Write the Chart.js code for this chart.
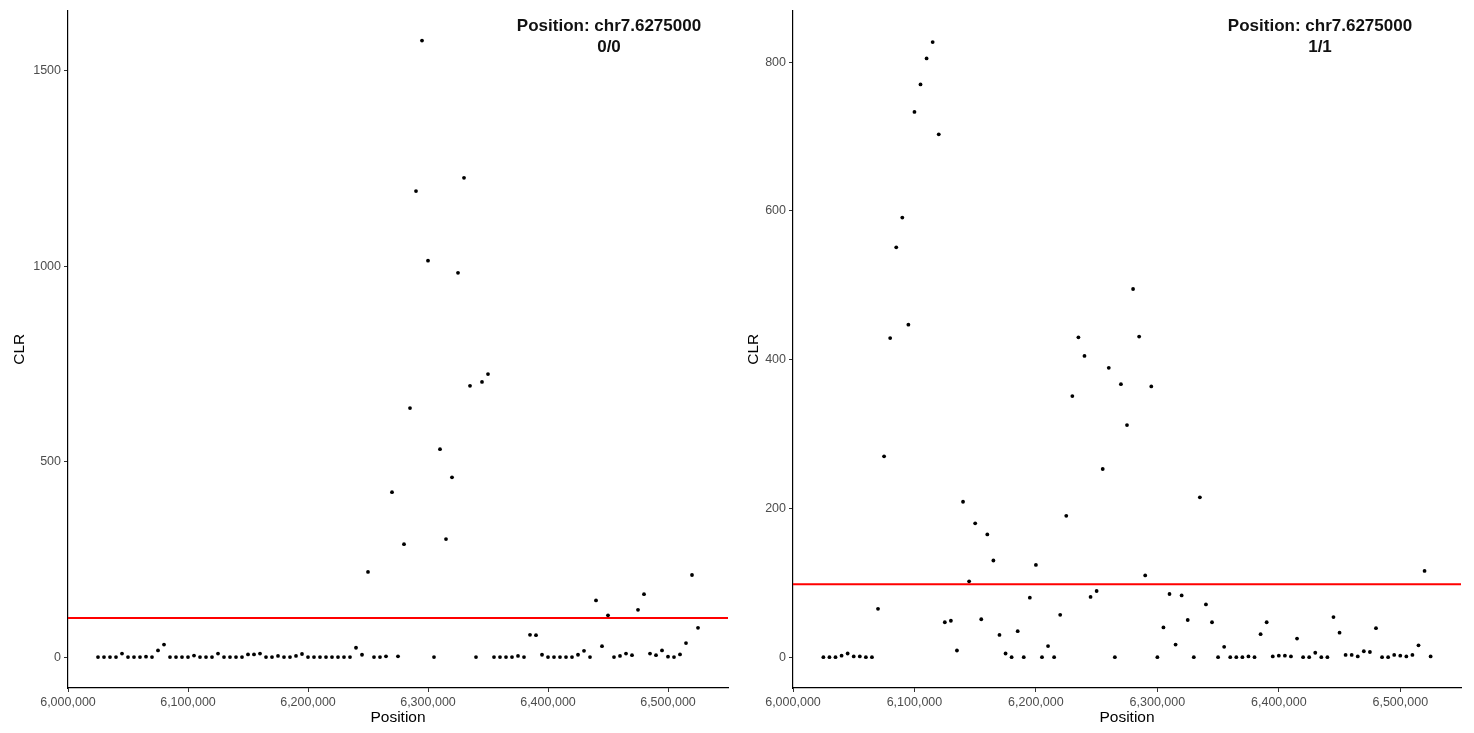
<!DOCTYPE html>
<html>
<head>
<meta charset="utf-8">
<title>CLR by position, chr7</title>
<script src="https://cdn.jsdelivr.net/npm/chart.js@4/dist/chart.umd.min.js"></script>
<style>
  html, body { margin: 0; padding: 0; background: #ffffff; }
  #wrap { position: relative; width: 1474px; height: 733px; }
  canvas { position: absolute; top: 0; }
  #left { left: 0; }
  #right { left: 737px; }
</style>
</head>
<body>
<div id="wrap">
  <canvas id="left" width="737" height="733"></canvas>
  <canvas id="right" width="737" height="733"></canvas>
</div>
<script>
// Window positions along chr7 (bp)
const positions = [
  6025000, 6030000, 6035000, 6040000, 6045000, 6050000, 6055000, 6060000, 6065000, 6070000,
  6075000, 6080000, 6085000, 6090000, 6095000, 6100000, 6105000, 6110000, 6115000, 6120000,
  6125000, 6130000, 6135000, 6140000, 6145000, 6150000, 6155000, 6160000, 6165000, 6170000,
  6175000, 6180000, 6185000, 6190000, 6195000, 6200000, 6205000, 6210000, 6215000, 6220000,
  6225000, 6230000, 6235000, 6240000, 6245000, 6250000, 6255000, 6260000, 6265000, 6270000,
  6275000, 6280000, 6285000, 6290000, 6295000, 6300000, 6305000, 6310000, 6315000, 6320000,
  6325000, 6330000, 6335000, 6340000, 6345000, 6350000, 6355000, 6360000, 6365000, 6370000,
  6375000, 6380000, 6385000, 6390000, 6395000, 6400000, 6405000, 6410000, 6415000, 6420000,
  6425000, 6430000, 6435000, 6440000, 6445000, 6450000, 6455000, 6460000, 6465000, 6470000,
  6475000, 6480000, 6485000, 6490000, 6495000, 6500000, 6505000, 6510000, 6515000, 6520000,
  6525000
];

// CLR for genotype 0/0
const clrHomRef = [
  0, 0, 0, 0, 9, 0, 0, 0, 1, 0,
  17, 32, 0, 0, 0, 0, 4, 0, 0, 0,
  9, 0, 0, 0, 0, 7, 7, 9, 0, 0,
  3, 0, 0, 3, 8, 0, 0, 0, 0, 0,
  0, 0, 0, 24, 6, 218, 0, 0, 2, 422,
  2, 289, 637, 1192, 1577, 1014, 0, 532, 302, 460,
  983, 1226, 694, 0, 704, 724, 0, 0, 0, 0,
  3, 0, 57, 56, 6, 0, 0, 0, 0, 0,
  6, 16, 0, 145, 28, 107, 0, 3, 9, 5,
  121, 161, 9, 5, 17, 1, 0, 7, 36, 210,
  75
];

// CLR for genotype 1/1
const clrHomAlt = [
  0, 0, 0, 2, 5, 1, 1, 0, 0, 65,
  270, 429, 551, 591, 447, 733, 770, 805, 827, 703,
  47, 49, 9, 209, 102, 180, 51, 165, 130, 30,
  5, 0, 35, 0, 80, 124, 0, 15, 0, 57,
  190, 351, 430, 405, 81, 89, 253, 389, 0, 367,
  312, 495, 431, 110, 364, 0, 40, 85, 17, 83,
  50, 0, 215, 71, 47, 0, 14, 0, 0, 0,
  1, 0, 31, 47, 1, 2, 2, 1, 25, 0,
  0, 6, 0, 0, 54, 33, 3, 3, 1, 8,
  7, 39, 0, 0, 3, 2, 1, 3, 16, 116,
  1
];

// Significance cut-offs (red lines)
const thresholdHomRef = 100;
const thresholdHomAlt = 98;

// Axis ticks and ranges
const xTicks = [6000000, 6100000, 6200000, 6300000, 6400000, 6500000];
const xRange = [6000000, 6550000];
const yTicksHomRef = [0, 500, 1000, 1500];
const yRangeHomRef = [-79, 1654];
const yTicksHomAlt = [0, 200, 400, 600, 800];
const yRangeHomAlt = [-41.4, 869.4];

// Panel headings
const headingHomRef = ['Position: chr7.6275000', '0/0'];
const headingHomAlt = ['Position: chr7.6275000', '1/1'];

const FONT = "'Liberation Sans', Arial, Helvetica, sans-serif";
const fmt = v => v.toLocaleString('en-US');

// Draws the two-line bold heading inside the plot panel
const headingPlugin = {
  id: 'panelHeading',
  afterDraw(chart, args, opts) {
    const ctx = chart.ctx;
    ctx.save();
    ctx.fillStyle = '#111';
    ctx.font = "bold 17px " + FONT;
    ctx.textAlign = 'center';
    ctx.textBaseline = 'middle';
    opts.lines.forEach((t, i) => ctx.fillText(t, opts.x, opts.y + i * opts.gap));
    ctx.restore();
  }
};

function makePanel(canvasId, values, threshold, yTicks, yRange, heading, cfg) {
  const pts = positions.map((p, i) => ({ x: p, y: values[i] }));
  return new Chart(document.getElementById(canvasId), {
    type: 'scatter',
    data: {
      datasets: [
        {
          type: 'line',
          data: [{ x: xRange[0], y: threshold }, { x: xRange[1], y: threshold }],
          borderColor: '#ff0000',
          borderWidth: 2,
          pointRadius: 0,
          order: 2
        },
        {
          data: pts,
          backgroundColor: '#000000',
          borderColor: '#000000',
          pointRadius: 1.9,
          borderWidth: 0,
          order: 1
        }
      ]
    },
    options: {
      responsive: false,
      animation: false,
      devicePixelRatio: 1,
      layout: { padding: { top: 10, right: cfg.padRight, left: 0, bottom: 0 } },
      plugins: {
        legend: { display: false },
        tooltip: { enabled: false },
        panelHeading: { lines: heading, x: cfg.headX, y: 26, gap: 21 }
      },
      scales: {
        x: {
          type: 'linear',
          min: xRange[0],
          max: xRange[1],
          afterBuildTicks: s => { s.ticks = xTicks.map(v => ({ value: v })); },
          afterFit: s => { s.height = 45; },
          ticks: {
            callback: v => fmt(v),
            color: '#4d4d4d',
            font: { family: FONT, size: 12.5 },
            padding: 3,
            maxRotation: 0
          },
          grid: { drawOnChartArea: false, drawTicks: true, tickLength: 4, color: '#333333', lineWidth: 1 },
          border: { display: true, color: '#000000', width: 1.2 },
          title: {
            display: true,
            text: 'Position',
            color: '#000000',
            font: { family: FONT, size: 15.5 },
            padding: { top: 0, bottom: 6 }
          }
        },
        y: {
          type: 'linear',
          min: yRange[0],
          max: yRange[1],
          afterBuildTicks: s => { s.ticks = yTicks.map(v => ({ value: v })); },
          afterFit: s => { s.width = cfg.yWidth; },
          ticks: {
            callback: v => String(v),
            color: '#4d4d4d',
            font: { family: FONT, size: 12.5 },
            padding: 3
          },
          grid: { drawOnChartArea: false, drawTicks: true, tickLength: 4, color: '#333333', lineWidth: 1 },
          border: { display: true, color: '#000000', width: 1.2 },
          title: {
            display: true,
            text: 'CLR',
            color: '#000000',
            font: { family: FONT, size: 15.5 },
            padding: { top: cfg.yTitlePad, bottom: 0 }
          }
        }
      }
    },
    plugins: [headingPlugin]
  });
}

makePanel('left', clrHomRef, thresholdHomRef, yTicksHomRef, yRangeHomRef, headingHomRef,
  { padRight: 9, yWidth: 68, yTitlePad: 10, headX: 609 });
makePanel('right', clrHomAlt, thresholdHomAlt, yTicksHomAlt, yRangeHomAlt, headingHomAlt,
  { padRight: 13, yWidth: 56, yTitlePad: 7, headX: 583 });
</script>
</body>
</html>
